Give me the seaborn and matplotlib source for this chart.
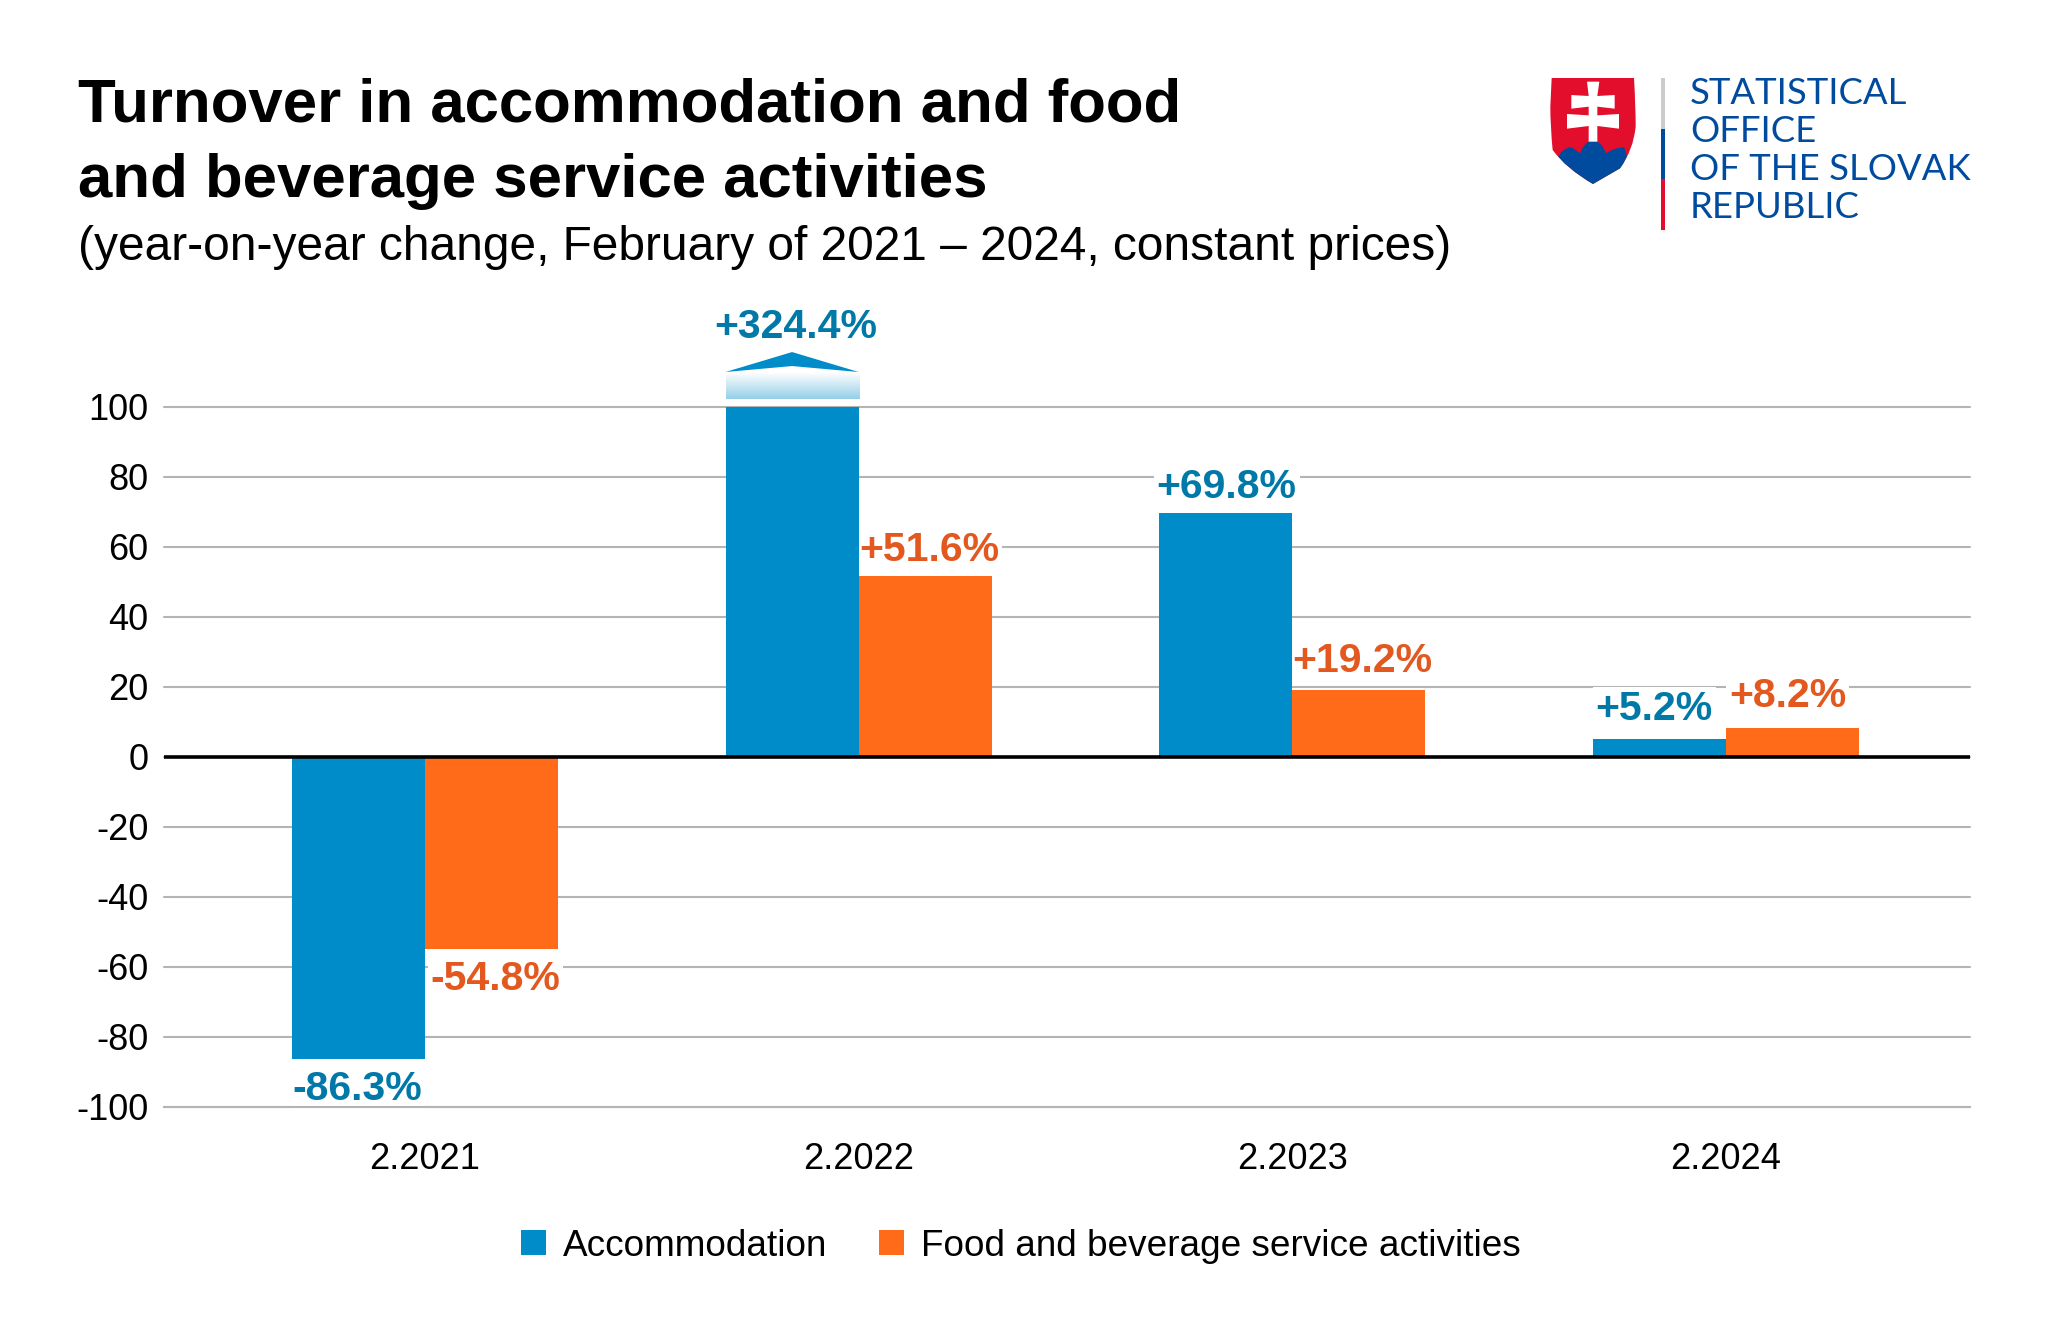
import numpy as np
import pandas as pd
import matplotlib
matplotlib.use("Agg")
import matplotlib.pyplot as plt
from matplotlib.patches import Polygon, Rectangle, PathPatch
from matplotlib.path import Path
import matplotlib.colors as mc
import seaborn as sns

periods = ["2.2021", "2.2022", "2.2023", "2.2024"]
accommodation = [-86.3, 324.4, 69.8, 5.2]
food = [-54.8, 51.6, 19.2, 8.2]
series_names = ["Accommodation", "Food and beverage service activities"]
yticks = [-100, -80, -60, -40, -20, 0, 20, 40, 60, 80, 100]
title_lines = ["Turnover in accommodation and food", "and beverage service activities"]
subtitle = "(year-on-year change, February of 2021 – 2024, constant prices)"
org_lines = ["STATISTICAL", "OFFICE", "OF THE SLOVAK", "REPUBLIC"]

BLUE, ORANGE = "#008CC8", "#FF6B18"
BLUE_T, ORANGE_T = "#0079A9", "#E2581F"
GRID = "#B4B4B4"
W, H = 2048, 1334

sns.set_theme(style="white")
plt.rcParams["font.family"] = ["Liberation Sans", "DejaVu Sans"]

df = pd.DataFrame({
    "period": periods * 2,
    "series": [series_names[0]] * 4 + [series_names[1]] * 4,
    "value": accommodation + food,
})

fig = plt.figure(figsize=(W / 100, H / 100), dpi=100, facecolor="white")
L, R, T, B = 164, 1970, 407, 1107
ax = fig.add_axes([L / W, 1 - B / H, (R - L) / W, (B - T) / H])
sns.barplot(data=df, x="period", y="value", hue="series", order=periods,
            hue_order=series_names, palette=[BLUE, ORANGE], width=0.614, gap=0,
            saturation=1, errorbar=None, ax=ax, zorder=2, legend=True, linewidth=0)
XLIM = (-0.602, 3.5631)
ax.set_xlim(*XLIM)
ax.set_ylim(-100, 100)
ax.set_yticks(yticks)
ax.set_yticklabels([str(v) for v in yticks], fontsize=26, color="black")
ax.set_xticks(range(4))
ax.set_xticklabels(periods, fontsize=26, color="black")
ax.tick_params(axis="both", length=0)
ax.tick_params(axis="x", pad=25)
ax.tick_params(axis="y", pad=11)
ax.set_xlabel(""); ax.set_ylabel("")
for s in ax.spines.values():
    s.set_visible(False)
ax.grid(axis="y", color=GRID, lw=1.5, clip_on=False)
ax.set_axisbelow(True)
ax.axhline(0, color="black", lw=2.6, zorder=3)
ax.axhline(-100, color=GRID, lw=1.5, zorder=1.8, clip_on=False)

# value labels: (dx, dy) nudges in pixels
bw = 0.307
nudge = {(0, 0): (-1, 11), (0, 1): (4, 11), (1, 0): (4, 6), (1, 1): (4, 7), (2, 0): (1, 7),
         (2, 1): (4, 10), (3, 0): (-5, 11), (3, 1): (-5, 13)}
for si, (vals, col) in enumerate(zip((accommodation, food), (BLUE_T, ORANGE_T))):
    for i, v in enumerate(vals):
        x = i + (si - 0.5) * bw
        y = 115.7 if v > 100 else v
        dx, dy = nudge[(i, si)]
        if v < 0:
            dy = -dy
        ax.annotate(f"{v:+.1f}%", (x, y), xytext=(dx * 0.72, dy * 0.72),
                    textcoords="offset points", ha="center",
                    va="bottom" if v >= 0 else "top", fontsize=29.5, fontweight="bold",
                    color=col, zorder=1.5, annotation_clip=False,
                    bbox=dict(facecolor="white", edgecolor="none", pad=2))

# break marker on the truncated bar
x0, x1 = 1 - bw, 1.0
grad = np.zeros((64, 2, 4))
grad[..., :3] = mc.to_rgb(BLUE)
grad[..., 3] = np.linspace(0, 0.42, 64)[:, None]
ax.imshow(grad, extent=(x0, x1, 102.3, 110), origin="upper", aspect="auto",
          zorder=2, clip_on=False)
ax.set_xlim(*XLIM); ax.set_ylim(-100, 100)
ax.add_patch(Polygon([(x0, 110), ((x0 + x1) / 2, 115.7), (x1, 110), ((x0 + x1) / 2, 111.7)],
                     closed=True, fc=BLUE, ec="none", clip_on=False, zorder=2))

# legend
h, l = ax.get_legend_handles_labels()
ax.legend(h, l, loc="center", bbox_to_anchor=(1021 / W, 1 - 1246 / H),
          bbox_transform=fig.transFigure, ncol=2, frameon=False, fontsize=26.6,
          handlelength=0.675, handleheight=0.66, handletextpad=0.46, columnspacing=1.41,
          labelcolor="black")

# page overlay in pixel coordinates
ov = fig.add_axes([0, 0, 1, 1], zorder=10)
ov.set_xlim(0, W); ov.set_ylim(H, 0); ov.axis("off"); ov.patch.set_alpha(0)
for ln, y in zip(title_lines, (106, 181)):
    ov.text(78, y, ln, fontsize=44.5, fontweight="bold", color="black", ha="left", va="center")
ov.text(78, 247, subtitle, fontsize=34.45, color="black", ha="left", va="center")

# logo
RED, NAVY = "#E30D2C", "#004B9E"
ox, oy = 1500, 50
def Z(pts):
    return [(ox + a / 3, oy + b / 3) for a, b in pts]
shield = Path(Z([(155, 84), (402, 84), (407, 170), (407, 230), (400, 300), (360, 355), (279, 402),
                 (198, 355), (158, 300), (151, 230), (151, 170), (155, 84)]),
              [Path.MOVETO, Path.LINETO, Path.CURVE3, Path.CURVE3, Path.CURVE3, Path.CURVE3, Path.LINETO,
               Path.CURVE3, Path.CURVE3, Path.CURVE3, Path.CURVE3, Path.CLOSEPOLY])
ov.add_patch(PathPatch(shield, fc=RED, ec="none"))
clip = PathPatch(shield, transform=ov.transData, fc="none", ec="none")
ov.add_patch(clip)
hills = Path(Z([(170, 330), (185, 292), (215, 292), (240, 310), (255, 272), (279, 272), (303, 272), (318, 310),
                (345, 292), (372, 292), (390, 330), (390, 420), (170, 420), (170, 330)]),
             [Path.MOVETO, Path.CURVE3, Path.CURVE3, Path.LINETO, Path.CURVE3, Path.LINETO, Path.CURVE3, Path.CURVE3,
              Path.CURVE3, Path.CURVE3, Path.CURVE3, Path.LINETO, Path.LINETO, Path.CLOSEPOLY])
hp = PathPatch(hills, fc=NAVY, ec="none")
ov.add_patch(hp)
hp.set_clip_path(clip)
cross = Z([(261, 95), (298, 95), (292, 138), (344, 135), (344, 176), (292, 170), (292, 196), (357, 192), (357, 236),
           (292, 228), (292, 275), (266, 275), (266, 228), (201, 236), (201, 192), (266, 196), (266, 170),
           (214, 176), (214, 135), (266, 138)])
ov.add_patch(Polygon(cross, closed=True, fc="white", ec="none"))
for y0, y1, c in ((84, 236, "#CCCCCC"), (236, 388, NAVY), (388, 540, RED)):
    ov.add_patch(Rectangle((ox + 483 / 3, oy + y0 / 3), 4, (y1 - y0) / 3, fc=c, ec="none"))
for ln, y in zip(org_lines, (94, 132, 170, 208)):
    ov.text(1690, y, ln, fontsize=26.3, color=NAVY, family="Lato", ha="left", va="center")

fig.savefig("out.png", dpi=100, facecolor="white")
